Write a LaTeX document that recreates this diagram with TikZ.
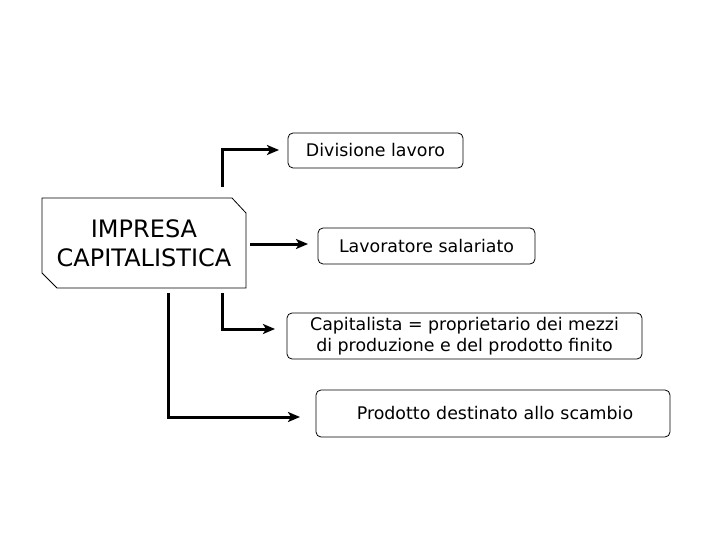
\documentclass[tikz,border=0pt]{standalone}
\usepackage{fontspec}
\setmainfont{DejaVu Sans}
\usetikzlibrary{arrows.meta}
\begin{document}
\begin{tikzpicture}[x=1pt,y=-1pt,
  lbl/.style={draw=black,line width=0.8pt,rounded corners=5pt,inner sep=0pt,font=\fontsize{17.4}{21}\selectfont,align=center},
  conn/.style={line width=3pt,-{Stealth[length=12pt,width=10pt,inset=3pt]}},
  plain/.style={line width=3pt}]
\useasboundingbox (0,0) rectangle (720,540);
% main box with cut corners
\draw[line width=0.8pt] (42,198) -- (232,198) -- (246,213) -- (246,288) -- (57,288) -- (42,273) -- cycle;
\node[font=\fontsize{24}{29}\selectfont,align=center] (main) at (144,243) {IMPRESA\\CAPITALISTICA};
\node[lbl,minimum width=175pt,minimum height=35pt] (div) at (375.5,150.5) {Divisione lavoro};
\node[lbl,minimum width=217pt,minimum height=36pt] (lav) at (426.5,246) {Lavoratore salariato};
\node[lbl,minimum width=355pt,minimum height=46pt] (cap) at (464.5,336) {Capitalista = proprietario dei mezzi\\di produzione e del prodotto finito};
\node[lbl,minimum width=354pt,minimum height=47pt,text width=354pt] (prod) at (493,413.5) {\hspace*{4pt}Prodotto destinato allo scambio};
\coordinate (s1) at (222,187);
\coordinate (t1) at (279,150);
\coordinate (s2) at (250,244);
\coordinate (t2) at (308,244);
\coordinate (s3) at (222,293);
\coordinate (t3) at (275,329);
\coordinate (s4) at (168,293);
\coordinate (t4) at (300,417);
\draw[conn] (s1) |- (t1);
\draw[conn] (s2) -- (t2);
\draw[conn] (s3) |- (t3);
\draw[conn] (s4) |- (t4);
\end{tikzpicture}
\end{document}
